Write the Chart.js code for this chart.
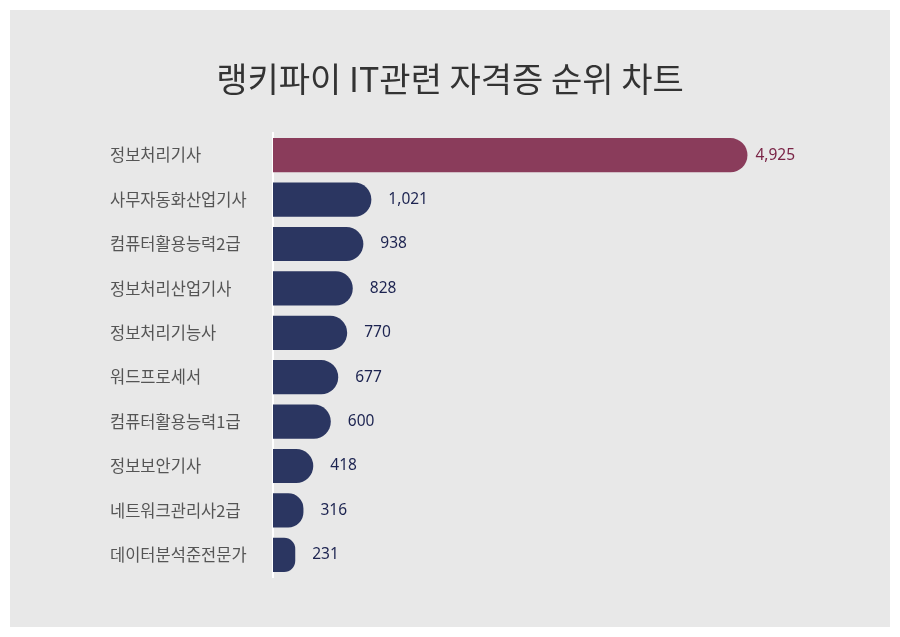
<!DOCTYPE html>
<html lang="ko">
<head>
<meta charset="utf-8">
<title>랭키파이 IT관련 자격증 순위 차트</title>
<script src="https://cdn.jsdelivr.net/npm/chart.js@4"></script>
<style>
  html, body { margin: 0; padding: 0; background: #ffffff; }
  canvas { display: block; }
</style>
</head>
<body>
<canvas id="rankChart" width="900" height="637"></canvas>
<script>
// ==========================
// DATA
// ==========================

const certNames = [
    "정보처리기사",
    "사무자동화산업기사",
    "컴퓨터활용능력2급",
    "정보처리산업기사",
    "정보처리기능사",
    "워드프로세서",
    "컴퓨터활용능력1급",
    "정보보안기사",
    "네트워크관리사2급",
    "데이터분석준전문가"
];

const certCounts = [4925, 1021, 938, 828, 770, 677, 600, 418, 316, 231];

const chartTitle = "랭키파이 IT관련 자격증 순위 차트";

// ==========================
// COLOURS
// ==========================

const topColor = "#8a3c5b";
const restColor = "#2b3661";
const topLabelColor = "#7a2446";
const restLabelColor = "#1c2350";

const barColors =
certCounts.map((v, i) => i === 0 ? topColor : restColor);

// ==========================
// PLUGINS
// ==========================

// gray panel with white frame, plus the title centred on the page
const panelBg = {
    id: "panelBg",
    beforeDraw(chart) {
        const ctx = chart.ctx;
        ctx.save();
        ctx.fillStyle = "#ffffff";
        ctx.fillRect(0, 0, chart.width, chart.height);
        ctx.fillStyle = "#e8e8e8";
        ctx.fillRect(10, 10, chart.width - 20, chart.height - 20);

        ctx.fillStyle = "#333333";
        ctx.font = "34px 'Noto Sans CJK KR', sans-serif";
        ctx.textAlign = "center";
        ctx.textBaseline = "middle";
        ctx.fillText(chartTitle, chart.width / 2, 79);
        ctx.restore();
    }
};

const valueLabels = {
    id: "valueLabels",
    afterDatasetsDraw(chart) {
        const ctx = chart.ctx;
        const meta = chart.getDatasetMeta(0);
        ctx.save();
        ctx.font = "15.5px 'Noto Sans', sans-serif";
        ctx.textBaseline = "middle";
        ctx.textAlign = "left";
        meta.data.forEach((bar, i) => {
            const gap = i === 0 ? 8 : 17;
            ctx.fillStyle = i === 0 ? topLabelColor : restLabelColor;
            ctx.fillText(
                certCounts[i].toLocaleString("en-US"),
                bar.x + gap,
                bar.y
            );
        });
        ctx.restore();
    }
};

// ==========================
// CHART
// ==========================

new Chart(document.getElementById("rankChart"), {
    type: "bar",
    data: {
        labels: certNames,
        datasets: [{
            data: certCounts,
            backgroundColor: barColors,
            borderSkipped: "start",
            borderRadius: 17,
            categoryPercentage: 1,
            barPercentage: 0.77
        }]
    },
    options: {
        indexAxis: "y",
        responsive: false,
        animation: false,
        layout: {
            padding: { left: 110, right: 49, top: 133, bottom: 60 }
        },
        plugins: {
            legend: { display: false },
            tooltip: { enabled: false },
            title: { display: false }
        },
        scales: {
            x: {
                display: false,
                min: 0,
                max: 6000
            },
            y: {
                afterFit(scale) { scale.width = 163; },
                grid: { display: false, drawTicks: false },
                border: { display: true, color: "#ffffff", width: 2 },
                ticks: {
                    crossAlign: "far",
                    color: "#555555",
                    padding: 0,
                    font: {
                        family: "'Noto Sans CJK KR', sans-serif",
                        size: 16.5
                    }
                }
            }
        }
    },
    plugins: [panelBg, valueLabels]
});
</script>
</body>
</html>
